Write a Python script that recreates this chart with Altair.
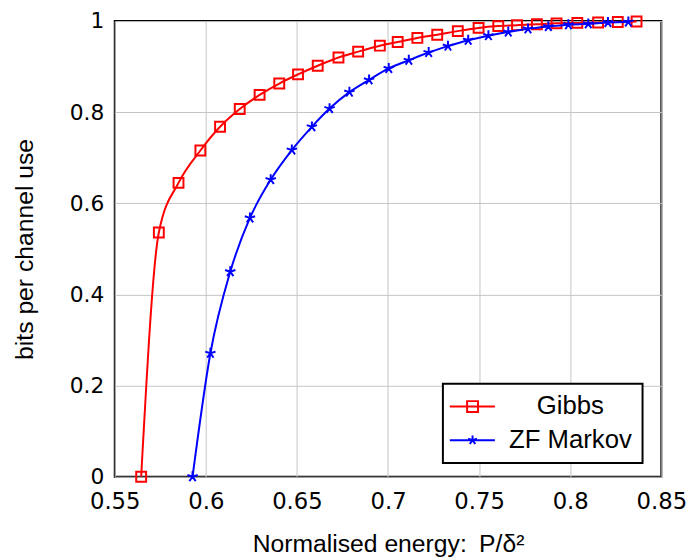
import altair as alt
import pandas as pd

series = ["Gibbs", "ZF Markov"]
colors = ["#ff0000", "#0000ff"]

gibbs_x = [0.5645, 0.5742, 0.5850, 0.5970, 0.6078, 0.6186, 0.6295, 0.6403, 0.6506,
           0.6614, 0.6728, 0.6836, 0.6955, 0.7053, 0.7161, 0.7270, 0.7383, 0.7497,
           0.7605, 0.7708, 0.7817, 0.7925, 0.8039, 0.8153, 0.8261, 0.8364]
gibbs_y = [0.0, 0.536, 0.645, 0.716, 0.768, 0.807, 0.838, 0.863, 0.883,
           0.902, 0.920, 0.933, 0.946, 0.954, 0.963, 0.970, 0.978, 0.985,
           0.989, 0.991, 0.993, 0.995, 0.996, 0.997, 0.998, 0.999]

zf_x = [0.5927, 0.6025, 0.6134, 0.6242, 0.6356, 0.6472, 0.6582, 0.6679, 0.6788,
        0.6896, 0.7004, 0.7114, 0.7223, 0.7329, 0.7440, 0.7551, 0.7660, 0.7768,
        0.7880, 0.7990, 0.8099, 0.8207, 0.8319]
zf_y = [0.0, 0.271, 0.450, 0.568, 0.652, 0.717, 0.768, 0.808, 0.844,
        0.871, 0.896, 0.914, 0.931, 0.945, 0.958, 0.968, 0.976, 0.983,
        0.988, 0.992, 0.994, 0.997, 0.998]

x_ticks = [0.55, 0.6, 0.65, 0.7, 0.75, 0.8, 0.85]
y_ticks = [0, 0.2, 0.4, 0.6, 0.8, 1]

df = pd.DataFrame({
    "x": gibbs_x + zf_x,
    "y": gibbs_y + zf_y,
    "series": [series[0]] * len(gibbs_x) + [series[1]] * len(zf_x),
})

STAR = ("M0,0L0,-1M0,0L-0.951,-0.309M0,0L-0.588,0.809"
        "M0,0L0.588,0.809M0,0L0.951,-0.309")
LEG_G = "M-3.2,0L5.92,0M0.3,-1.1L2.5,-1.1L2.5,1.1L0.3,1.1Z"
LEG_Z = ("M-3.2,0L5.92,0M1.4,0L1.4,-0.95M1.4,0L0.496,-0.294M1.4,0L0.841,0.769"
         "M1.4,0L1.959,0.769M1.4,0L2.304,-0.294")

x_enc = alt.X(
    "x:Q",
    scale=alt.Scale(domain=[0.55, 0.85], nice=False, zero=False),
    axis=alt.Axis(values=x_ticks, format="~g", title="Normalised energy:\u2002P/δ²",
                  labelPadding=14, titlePadding=19, labelFlush=False),
)
y_enc = alt.Y(
    "y:Q",
    scale=alt.Scale(domain=[0, 1], nice=False),
    axis=alt.Axis(values=y_ticks, format="~g", title="bits per channel use",
                  labelPadding=11, titlePadding=32, labelFlush=False,
                  labelFontSize=22),
)

legend = alt.Legend(
    title=None,
    orient="none",
    legendX=332,
    legendY=367,
    padding=10,
    rowPadding=8,
    symbolSize=100,
    symbolStrokeWidth=2,
    labelFont="Liberation Sans",
    labelFontSize=26,
    labelAlign="center",
    labelOffset=93,
    labelLimit=400,
    labelColor="black",
    strokeColor="black",
    fillColor="white",
)

base = alt.Chart(df)
g = base.transform_filter("datum.series === 'Gibbs'")
z = base.transform_filter("datum.series === 'ZF Markov'")

line_g = g.mark_line(interpolate="monotone", strokeWidth=2, color=colors[0]).encode(x=x_enc, y=y_enc)
pts_g = g.mark_point(shape="square", size=100, filled=False, strokeWidth=2,
                     opacity=1, color=colors[0]).encode(x=x_enc, y=y_enc)
line_z = z.mark_line(interpolate="monotone", strokeWidth=2, color=colors[1]).encode(x=x_enc, y=y_enc)
pts_z = z.mark_point(shape=STAR, size=120, filled=False, strokeWidth=2,
                     opacity=1, color=colors[1]).encode(x=x_enc, y=y_enc)

legend_layer = base.transform_filter("false").mark_point(
    filled=False, strokeWidth=2, opacity=1, size=100
).encode(
    x=x_enc, y=y_enc,
    color=alt.Color("series:N", scale=alt.Scale(domain=series, range=colors), legend=legend),
    shape=alt.Shape("series:N", scale=alt.Scale(domain=series, range=[LEG_G, LEG_Z]), legend=legend),
)

chart = alt.layer(line_g, pts_g, line_z, pts_z, legend_layer).properties(
    width=553,
    height=461,
    autosize=alt.AutoSizeParams(type="none"),
    padding={"left": 108, "top": 10, "right": 28, "bottom": 80},
).configure(
    font="Liberation Sans",
).configure_view(
    stroke="black", strokeWidth=2,
).configure_legend(
    strokeWidth=2,
).configure_axis(
    grid=True,
    gridColor="#c4c4c4",
    gridWidth=1,
    domain=False,
    ticks=False,
    tickSize=0,
    labelFont="DejaVu Sans",
    labelFontSize=23,
    labelColor="black",
    titleFont="Liberation Sans",
    titleFontSize=25,
    titleFontWeight="normal",
    titleColor="black",
)

chart.save("out.html", embed_options={"renderer": "svg", "actions": False})
